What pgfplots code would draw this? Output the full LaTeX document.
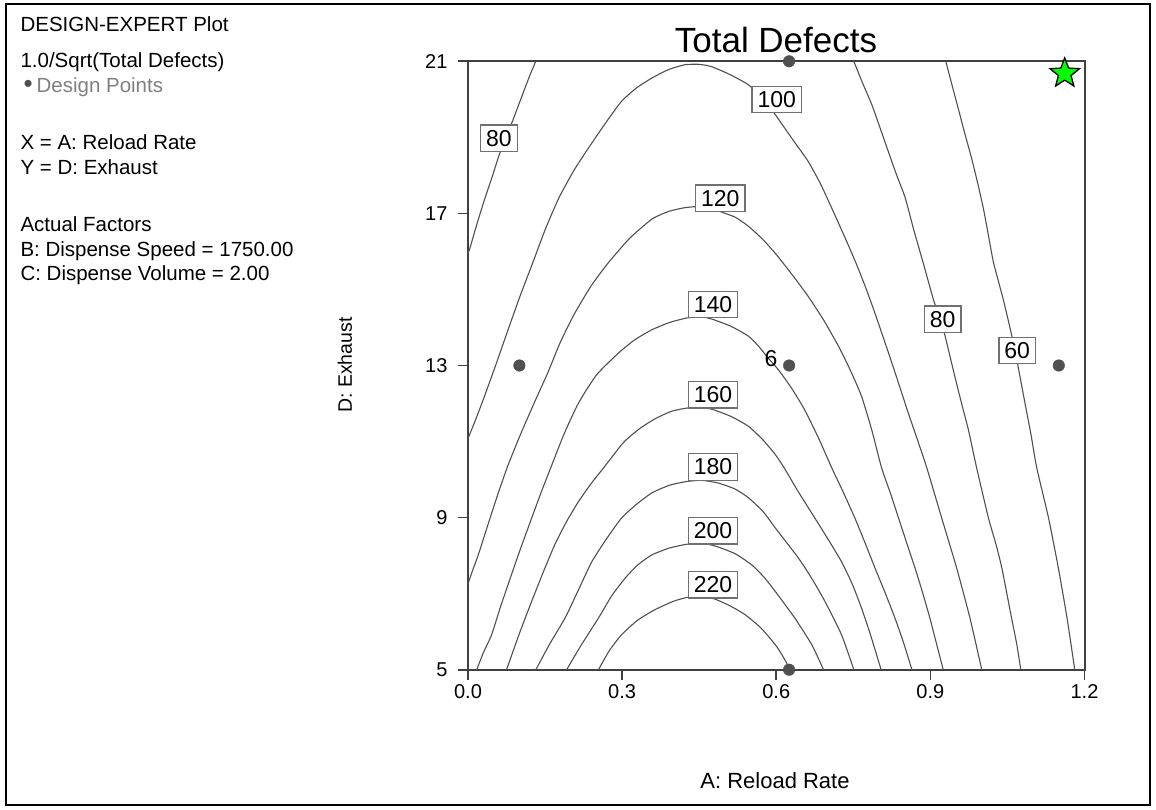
\documentclass[border=0pt]{standalone}
\usepackage{fontspec}
\setmainfont{Liberation Sans}
\usepackage{pgfplots}
\pgfplotsset{compat=1.18}
\definecolor{cline}{HTML}{505050}
\definecolor{axiscol}{HTML}{404040}
\definecolor{dptcol}{HTML}{505050}
\definecolor{boxcol}{HTML}{707070}
\definecolor{legcol}{HTML}{808080}
\definecolor{stargreen}{HTML}{00FF00}

\pgfdeclareplotmark{fstar}{%
  \pgfpathmoveto{\pgfpointpolar{90}{\pgfplotmarksize}}%
  \pgfpathlineto{\pgfpointpolar{126}{0.43\pgfplotmarksize}}%
  \pgfpathlineto{\pgfpointpolar{162}{\pgfplotmarksize}}%
  \pgfpathlineto{\pgfpointpolar{198}{0.43\pgfplotmarksize}}%
  \pgfpathlineto{\pgfpointpolar{234}{\pgfplotmarksize}}%
  \pgfpathlineto{\pgfpointpolar{270}{0.43\pgfplotmarksize}}%
  \pgfpathlineto{\pgfpointpolar{306}{\pgfplotmarksize}}%
  \pgfpathlineto{\pgfpointpolar{342}{0.43\pgfplotmarksize}}%
  \pgfpathlineto{\pgfpointpolar{18}{\pgfplotmarksize}}%
  \pgfpathlineto{\pgfpointpolar{54}{0.43\pgfplotmarksize}}%
  \pgfpathclose
  \pgfusepathqfillstroke
}

\pgfplotsset{contour line/.style={draw=cline, line width=1.1pt, no marks, smooth, tension=0.35}}

\begin{document}
\begin{tikzpicture}
\useasboundingbox (0,0) rectangle (1156pt,809pt);
\fill[white] (0,0) rectangle (1156pt,809pt);
\draw[line width=2pt] (6pt,4pt) rectangle (1150pt,805pt);

\begin{scope}[font=\fontsize{20.5}{25}\selectfont]
\node[anchor=base west] at (17pt,777pt) {DESIGN-EXPERT Plot};
\node[anchor=base west] at (17pt,741pt) {1.0/Sqrt(Total Defects)};
\node[anchor=base west] at (20pt,716pt) {\textcolor{dptcol}{\fontsize{26}{26}\selectfont •}\hspace{4pt}\textcolor{legcol}{Design Points}};
\node[anchor=base west] at (17pt,659pt) {X = A: Reload Rate};
\node[anchor=base west] at (17pt,634pt) {Y = D: Exhaust};
\node[anchor=base west] at (17pt,577pt) {Actual Factors};
\node[anchor=base west] at (17pt,552pt) {B: Dispense Speed = 1750.00};
\node[anchor=base west] at (17pt,528pt) {C: Dispense Volume = 2.00};
\end{scope}

\begin{axis}[
  at={(468pt,139.3pt)}, anchor=south west,
  scale only axis, width=616.5pt, height=608.4pt,
  xmin=0, xmax=1.2, ymin=5, ymax=21,
  clip=false,
  axis line style={draw=axiscol, line width=2pt},
  xtick={0,0.3,0.6,0.9,1.2}, xticklabels={0.0,0.3,0.6,0.9,1.2},
  ytick={5,9,13,17,21}, yticklabels={5,9,13,17,21},
  tick pos=left, tick align=outside, major tick length=10pt,
  tick style={draw=axiscol, line width=1.6pt},
  ticklabel style={font=\fontsize{20}{20}\selectfont},
  /pgf/number format/assume math mode=true,
  xticklabel style={yshift=-1pt},
  yticklabel style={xshift=-7pt},
]
% contour 220
\addplot[contour line] coordinates {(0.254,5) (0.275,5.50) (0.299,5.92) (0.330,6.30) (0.364,6.58) (0.400,6.80) (0.426,6.90) (0.455,6.93) (0.480,6.86) (0.510,6.68) (0.539,6.45) (0.570,6.10) (0.598,5.66) (0.613,5.35) (0.627,5)};
% contour 200
\addplot[contour line] coordinates {(0.192,5) (0.221,5.66) (0.254,6.36) (0.280,6.95) (0.306,7.41) (0.330,7.75) (0.358,8.02) (0.392,8.20) (0.426,8.30) (0.455,8.33) (0.484,8.24) (0.520,8.05) (0.552,7.76) (0.577,7.42) (0.598,7.06) (0.636,6.36) (0.669,5.66) (0.692,5)};
% contour 180
\addplot[contour line] coordinates {(0.132,5) (0.160,5.70) (0.189,6.36) (0.215,7.10) (0.241,7.84) (0.270,8.45) (0.299,8.99) (0.328,9.35) (0.358,9.65) (0.392,9.85) (0.426,9.95) (0.455,9.98) (0.487,9.91) (0.520,9.75) (0.546,9.52) (0.575,9.15) (0.598,8.73) (0.643,7.94) (0.670,7.38) (0.695,6.79) (0.727,5.92) (0.751,5)};
% contour 160
\addplot[contour line] coordinates {(0.075,5) (0.100,5.95) (0.124,6.80) (0.146,7.55) (0.169,8.29) (0.192,8.90) (0.215,9.42) (0.240,9.90) (0.264,10.31) (0.303,10.98) (0.335,11.35) (0.367,11.62) (0.397,11.80) (0.426,11.88) (0.455,11.90) (0.477,11.84) (0.512,11.66) (0.546,11.40) (0.575,11.03) (0.598,10.66) (0.614,10.34) (0.642,9.70) (0.675,8.99) (0.700,8.45) (0.727,7.84) (0.748,7.25) (0.766,6.62) (0.785,5.85) (0.804,5)};
% contour 140
\addplot[contour line] coordinates {(0.017,5) (0.030,5.45) (0.046,5.92) (0.062,6.60) (0.078,7.24) (0.100,8.10) (0.124,8.99) (0.142,9.65) (0.161,10.31) (0.187,11.20) (0.215,12.01) (0.250,12.75) (0.293,13.33) (0.325,13.68) (0.358,13.94) (0.392,14.13) (0.426,14.25) (0.455,14.28) (0.477,14.21) (0.512,14.03) (0.546,13.77) (0.566,13.50) (0.584,13.20) (0.604,12.89) (0.630,12.40) (0.655,11.84) (0.682,11.10) (0.708,10.31) (0.731,9.65) (0.753,8.99) (0.773,8.33) (0.792,7.68) (0.812,7.02) (0.831,6.36) (0.848,5.70) (0.864,5)};
% contour 120
\addplot[contour line] coordinates {(0,7.26) (0.010,7.65) (0.020,8.02) (0.043,8.99) (0.059,9.65) (0.076,10.31) (0.091,10.82) (0.106,11.31) (0.130,12.05) (0.155,12.80) (0.180,13.62) (0.208,14.38) (0.240,15.10) (0.273,15.70) (0.315,16.35) (0.358,16.85) (0.390,17.05) (0.422,17.15) (0.455,17.18) (0.490,17.05) (0.520,16.90) (0.546,16.66) (0.575,16.30) (0.598,15.95) (0.613,15.70) (0.637,15.28) (0.662,14.82) (0.692,14.20) (0.721,13.51) (0.745,12.85) (0.766,12.19) (0.786,11.30) (0.805,10.31) (0.822,9.65) (0.838,8.99) (0.854,8.33) (0.870,7.68) (0.885,7.02) (0.899,6.36) (0.912,5.68) (0.925,5)};
% contour 100
\addplot[contour line] coordinates {(0,11.08) (0.017,11.65) (0.032,12.19) (0.055,13.05) (0.078,13.94) (0.102,14.85) (0.126,15.70) (0.151,16.60) (0.177,17.41) (0.207,18.15) (0.239,18.81) (0.270,19.42) (0.299,19.95) (0.328,20.30) (0.358,20.56) (0.390,20.78) (0.422,20.91) (0.450,20.92) (0.474,20.86) (0.510,20.65) (0.546,20.38) (0.575,20.00) (0.598,19.60) (0.630,18.98) (0.662,18.37) (0.686,17.78) (0.708,17.14) (0.732,16.42) (0.755,15.70) (0.774,15.05) (0.792,14.38) (0.825,13.07) (0.857,11.75) (0.876,11.00) (0.893,10.31) (0.922,8.99) (0.951,7.68) (0.977,6.36) (1.000,5)};
% contour 80 (left)
\addplot[contour line] coordinates {(0.132,21) (0.121,20.65) (0.111,20.30) (0.0915,19.6) (0.085,19.37) (0.062,18.59) (0.048,18.0) (0.033,17.4) (0.018,16.75) (0.004,16.1) (0,15.95)};
% contour 80 (right)
\addplot[contour line] coordinates {(0.751,21) (0.768,20.43) (0.786,19.86) (0.802,19.25) (0.818,18.63) (0.834,18.02) (0.851,17.41) (0.868,16.55) (0.886,15.70) (0.906,14.73) (0.918,14.25) (0.928,13.81) (0.941,13.08) (0.954,12.36) (0.964,11.83) (0.974,11.31) (0.990,10.31) (1.013,8.99) (1.027,8.33) (1.039,7.68) (1.058,6.36) (1.068,5.68) (1.076,5)};
% contour 60
\addplot[contour line] coordinates {(0.930,21) (0.942,20.38) (0.954,19.77) (0.967,19.10) (0.980,18.46) (0.992,17.80) (1.003,17.14) (1.013,16.42) (1.023,15.70) (1.042,14.73) (1.058,13.81) (1.070,13.02) (1.084,12.02) (1.096,11.17) (1.107,10.31) (1.130,8.99) (1.149,7.68) (1.166,6.36) (1.181,5)};

% contour labels
\addplot[draw=none, no marks, point meta=explicit symbolic, nodes near coords,
  nodes near coords style={anchor=center, draw=boxcol, fill=white, line width=1.2pt, text=black,
    font=\fontsize{23}{23}\selectfont, inner xsep=5.5pt, inner ysep=5pt}]
  coordinates {(0.060,18.98)[80] (0.601,20.00)[100] (0.491,17.40)[120] (0.477,14.61)[140] (0.477,12.23)[160] (0.477,10.33)[180] (0.477,8.65)[200] (0.477,7.23)[220] (0.924,14.22)[80] (1.069,13.40)[60]};
% replicate count
\addplot[draw=none, no marks, point meta=explicit symbolic, nodes near coords,
  nodes near coords style={anchor=center, text=black, font=\fontsize{23}{23}\selectfont, inner sep=0pt}]
  coordinates {(0.590,13.17)[6]};
% design points
\addplot[only marks, mark=*, mark size=5.8pt, mark options={fill=dptcol, draw=dptcol}]
  coordinates {(0.1,13) (0.625,21) (0.625,13) (1.15,13) (0.625,5)};
% star
\addplot[only marks, mark=fstar, mark size=15.5pt, mark options={fill=stargreen, draw=black, line width=1.3pt}]
  coordinates {(1.1615,20.68)};
\end{axis}

\node[anchor=base, font=\fontsize{35}{35}\selectfont] at (776pt,756pt) {Total Defects};
\node[anchor=base, font=\fontsize{22}{22}\selectfont] at (775pt,21pt) {A: Reload Rate};
\node[rotate=90, anchor=center, font=\fontsize{19.5}{19.5}\selectfont] at (345pt,444pt) {D: Exhaust};
\end{tikzpicture}
\end{document}
